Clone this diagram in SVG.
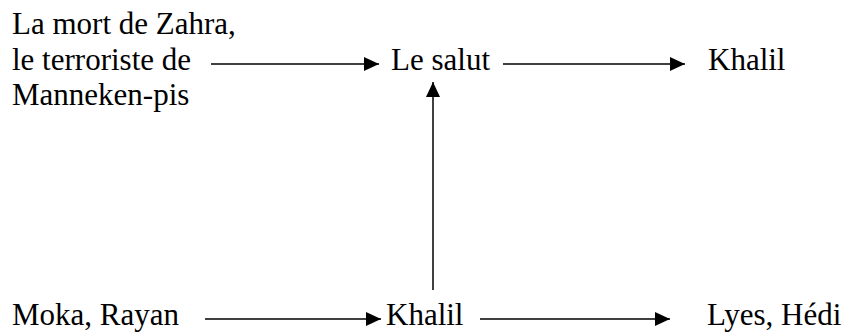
<svg xmlns="http://www.w3.org/2000/svg" width="847" height="335" viewBox="0 0 847 335">
<style>
text{font-family:"Liberation Serif","Times New Roman",serif;font-size:31px;fill:#000}
.c line{stroke:#000;stroke-width:1.5}
</style>
<defs>
<marker id="ah" markerWidth="15" markerHeight="14" refX="15" refY="7" orient="auto" markerUnits="userSpaceOnUse">
<path d="M0,0 L15,7 L0,14 Z" fill="#000"/>
</marker>
</defs>
<rect width="847" height="335" fill="#fff"/>
<g id="n-source">
<text x="12" y="34">La mort de Zahra,</text>
<text x="12" y="70">le terroriste de</text>
<text x="12" y="105">Manneken-pis</text>
</g>
<g id="n-salut"><text x="391" y="70">Le salut</text></g>
<g id="n-khalil-top"><text x="708" y="70">Khalil</text></g>
<g id="n-moka"><text x="12" y="325">Moka, Rayan</text></g>
<g id="n-khalil-bottom"><text x="386" y="325">Khalil</text></g>
<g id="n-lyes"><text x="707" y="325">Lyes, Hédi</text></g>
<g class="c" id="connectors">
<line x1="211" y1="64" x2="379" y2="64" marker-end="url(#ah)"/>
<line x1="503" y1="64" x2="685" y2="64" marker-end="url(#ah)"/>
<line x1="433" y1="290" x2="433" y2="82" marker-end="url(#ah)"/>
<line x1="205" y1="319" x2="381" y2="319" marker-end="url(#ah)"/>
<line x1="480" y1="319" x2="670" y2="319" marker-end="url(#ah)"/>
</g>
</svg>
